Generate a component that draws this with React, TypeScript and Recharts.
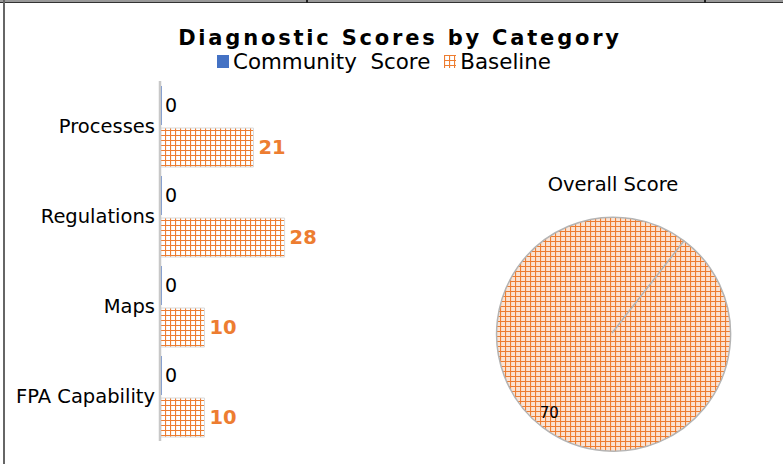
import { Bar, BarChart, Cell, LabelList, Pie, PieChart, XAxis, YAxis } from "recharts";

const categories = ["Processes", "Regulations", "Maps", "FPA Capability"];
const communityScore = [0, 0, 0, 0];
const baseline = [21, 28, 10, 10];
const seriesNames = ["Community Score", "Baseline"];
const overallValues = [0, 70];

const BLUE = "#4472C4";
const ORANGE = "#ED7D31";
const FONT = "'DejaVu Sans', sans-serif";

const barData = categories.map((name, i) => ({
  name,
  community: communityScore[i],
  baseline: baseline[i],
}));

const pieData = seriesNames.map((name, i) => ({ name, value: overallValues[i] }));

function GridPattern({ id, bg = "#fbe3d3" }: { id: string; bg?: string }) {
  return (
    <pattern id={id} width={5} height={5} patternUnits="userSpaceOnUse">
      <rect width={5} height={5} fill={bg} />
      <path d="M0.5 0 V5 M0 0.5 H5" stroke={ORANGE} strokeWidth={1.2} />
    </pattern>
  );
}

// zero-width bar still shows as a thin blue edge in the original
function CommunityShape(props: any) {
  const { x, y, height } = props;
  return <line x1={x + 1} x2={x + 1} y1={y} y2={y + height} stroke={BLUE} strokeWidth={1.5} />;
}

const RAD = Math.PI / 180;
function pieLabel(props: any) {
  const { cx, cy, midAngle, outerRadius, value } = props;
  if (!value) return null;
  const r = outerRadius * 0.87;
  const x = cx + r * Math.cos(-midAngle * RAD);
  const y = cy + r * Math.sin(-midAngle * RAD);
  return (
    <text x={x} y={y} textAnchor="middle" dominantBaseline="central" fontSize={15} fill="#000" fontFamily={FONT}>
      {value}
    </text>
  );
}

export default function App() {
  return (
    <div style={{ position: "absolute", left: 0, top: 0, width: 783, height: 464, background: "#fff", fontFamily: FONT, overflow: "hidden" }}>
      <div style={{ position: "absolute", left: 0, top: 0, width: 783, height: 2, background: "#999", borderBottom: "1px solid #333" }} />
      <div style={{ position: "absolute", left: 306, top: 0, width: 2, height: 3, background: "#222" }} />
      <div style={{ position: "absolute", left: 704, top: 0, width: 2, height: 3, background: "#222" }} />
      <div style={{ position: "absolute", left: 3, top: 0, width: 2, height: 464, background: "#666" }} />

      <div style={{ position: "absolute", left: 0, top: 26, width: 800, textAlign: "center", fontSize: 21, fontWeight: "bold", letterSpacing: 2.8, color: "#000" }}>
        Diagnostic Scores by Category
      </div>
      <div style={{ position: "absolute", left: 217, top: 49, display: "flex", alignItems: "center", fontSize: 21.4, color: "#000", whiteSpace: "pre" }}>
        <span style={{ display: "inline-block", width: 12, height: 13, background: BLUE, marginRight: 4 }} />
        <span>{"Community  Score"}</span>
        <svg width={12} height={13} style={{ marginLeft: 14, marginRight: 4 }}>
          <defs>
            <GridPattern id="legendGrid" bg="#fff" />
          </defs>
          <rect width={12} height={13} fill="url(#legendGrid)" />
        </svg>
        <span>{seriesNames[1]}</span>
      </div>

      <div style={{ position: "absolute", left: 0, top: 0 }}>
        <BarChart
          width={427}
          height={464}
          layout="vertical"
          data={barData}
          margin={{ top: 81, right: 0, bottom: 23, left: 0 }}
          barSize={39}
          barGap={3}
        >
          <defs>
            <GridPattern id="barGrid" bg="#fff" />
          </defs>
          <XAxis type="number" domain={[0, 60]} hide />
          <YAxis
            type="category"
            dataKey="name"
            width={160}
            tickSize={0}
            tickMargin={5}
            axisLine={{ stroke: "#c8c8c8", strokeWidth: 2.5 }}
            tick={{ fontSize: 19.5, fill: "#000", fontFamily: FONT }}
          />
          <Bar dataKey="community" name={seriesNames[0]} fill={BLUE} shape={CommunityShape} isAnimationActive={false}>
            <LabelList dataKey="community" position="right" offset={5} fill="#000" fontSize={19} fontFamily={FONT} />
          </Bar>
          <Bar dataKey="baseline" name={seriesNames[1]} fill="url(#barGrid)" stroke="#d9d9d9" strokeWidth={1} isAnimationActive={false}>
            <LabelList dataKey="baseline" position="right" offset={5} fill={ORANGE} fontSize={19.5} fontWeight="bold" fontFamily={FONT} />
          </Bar>
        </BarChart>
      </div>

      <div style={{ position: "absolute", left: 427, top: 173, width: 372, textAlign: "center", fontSize: 19.5, color: "#000" }}>
        Overall Score
      </div>
      <div style={{ position: "absolute", left: 490, top: 211 }}>
        <PieChart width={244} height={244} margin={{ top: 0, right: 0, bottom: 0, left: 0 }}>
          <defs>
            <GridPattern id="pieGrid" />
          </defs>
          <Pie
            data={pieData}
            dataKey="value"
            nameKey="name"
            cx={122}
            cy={122}
            outerRadius={117}
            startAngle={52}
            endAngle={-308}
            stroke="#b4b4b4"
            strokeWidth={1.5}
            label={pieLabel}
            labelLine={false}
            isAnimationActive={false}
          >
            {pieData.map((d, i) => (
              <Cell key={d.name} fill={i === 0 ? BLUE : "url(#pieGrid)"} />
            ))}
          </Pie>
        </PieChart>
      </div>
    </div>
  );
}
